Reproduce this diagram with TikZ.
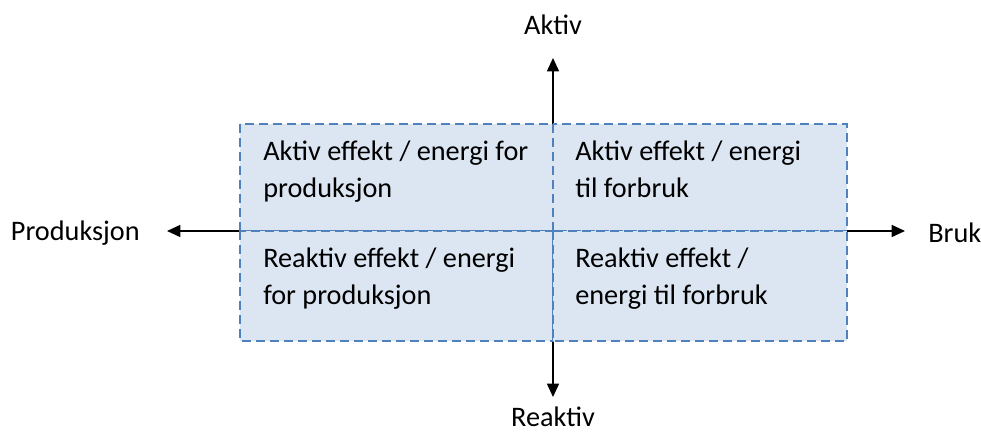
\documentclass[tikz,border=0pt]{standalone}
\usepackage{fontspec}
\setmainfont{Carlito}
\usetikzlibrary{arrows.meta}
\definecolor{cellfill}{RGB}{220,230,242}
\definecolor{cellline}{RGB}{79,129,189}
\tikzset{
  axis/.style={line width=1.2pt,{Triangle[length=10pt,width=9pt]}-{Triangle[length=10pt,width=9pt]}},
  cell/.style={draw=cellline,fill=cellfill,line width=1.7pt,dash pattern=on 6.5pt off 4pt},
  celltext/.style={anchor=north west,inner sep=0pt,align=left,font=\fontsize{21.2}{27.5}\selectfont},
  axlabel/.style={inner sep=0pt,font=\fontsize{21.2}{26}\selectfont}
}
\begin{document}
\begin{tikzpicture}[x=0.75pt,y=-0.75pt]
\useasboundingbox (0,0) rectangle (981,434);
% axes
\coordinate (ntip) at (553,58);
\coordinate (stip) at (553,397);
\coordinate (wtip) at (167,231);
\coordinate (etip) at (905,231);
\draw[axis] (stip) -- (ntip);
\draw[axis] (wtip) -- (etip);
\node[axlabel] (aktiv) at (553,25) {Aktiv};
\node[axlabel] (reaktiv) at (553,417) {Reaktiv};
\node[axlabel,anchor=east] (prod) at (140,233) {Produksjon};
\node[axlabel,anchor=west] (bruk) at (928,233) {Bruk};
% quadrants
\draw[cell] (240,124) rectangle (553,231);
\draw[cell] (553,124) rectangle (847,231);
\draw[cell] (240,231) rectangle (553,341);
\draw[cell] (553,231) rectangle (847,341);
\node[celltext] (ap) at (263,141) {Aktiv effekt / energi for\\produksjon};
\node[celltext] (af) at (575,141) {Aktiv effekt / energi\\til forbruk};
\node[celltext] (rp) at (263,248) {Reaktiv effekt / energi\\for produksjon};
\node[celltext] (rf) at (575,248) {Reaktiv effekt /\\energi til forbruk};
\end{tikzpicture}
\end{document}
